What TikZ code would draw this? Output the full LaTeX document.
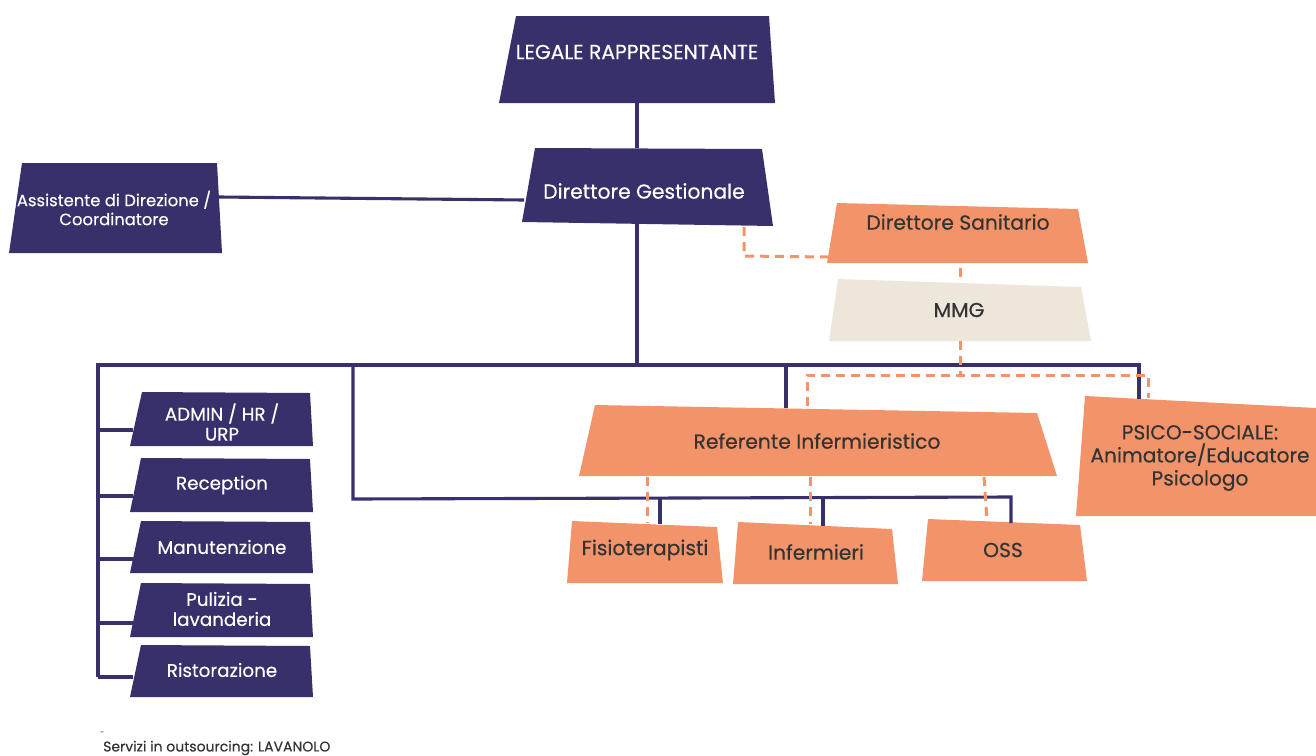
\documentclass[tikz,border=0pt]{standalone}
\usepackage{fontspec}
\setmainfont{Poppins}[FakeBold=0.35]
\definecolor{navy}{HTML}{37306B}
\definecolor{coral}{HTML}{F2936A}
\definecolor{beige}{HTML}{EDE6DB}
\definecolor{ink}{HTML}{333333}
\begin{document}
\begin{tikzpicture}[x=1pt,y=-1pt,
  navyline/.style={draw=navy,line width=3.1pt},
  dashline/.style={draw=coral,line width=3pt,dash pattern=on 9pt off 6pt},
  lbl/.style={align=center,inner sep=0pt,font=\fontsize{20.3}{24}\selectfont},
  wlbl/.style={lbl,text=white},
  dlbl/.style={lbl,text=ink},
  slbl/.style={wlbl,font=\fontsize{16.4}{19}\selectfont},
  clbl/.style={wlbl,font=\fontsize{18.3}{20}\selectfont}]
\useasboundingbox (0,0) rectangle (1316,755);

% ---------- shapes ----------
\fill[navy] (516,16) -- (769,16) -- (775,103) -- (499,103) -- cycle;
\fill[navy] (535,148) -- (762,149) -- (773,226) -- (522,222) -- cycle;
\fill[navy] (22,163) -- (217,163) -- (222,253) -- (9,253) -- cycle;
\fill[coral] (837,203) -- (1078,209) -- (1088,263) -- (827,263) -- cycle;
\fill[beige] (838,279) -- (1081,287) -- (1091,341) -- (829,341) -- cycle;
\fill[coral] (595,405) -- (1037,413) -- (1057,476) -- (579,476) -- cycle;
\fill[coral] (1085,396) -- (1316,408) -- (1316,516) -- (1076,516) -- cycle;
\fill[coral] (572,521) -- (717,527) -- (723,583) -- (567,583) -- cycle;
\fill[coral] (738,522) -- (892,529) -- (898,584) -- (733,584) -- cycle;
\fill[coral] (928,519) -- (1080,525) -- (1087,581) -- (922,581) -- cycle;
\fill[navy] (142,392) -- (310,393) -- (313,446) -- (130,446) -- cycle;
\fill[navy] (141,458) -- (310,459) -- (313,512) -- (130,512) -- cycle;
\fill[navy] (141,521) -- (310,522) -- (313,573) -- (130,573) -- cycle;
\fill[navy] (141,583) -- (310,584) -- (313,637) -- (130,637) -- cycle;
\fill[navy] (141,645) -- (310,646) -- (313,697) -- (130,697) -- cycle;

% ---------- labels ----------
\node[wlbl] (lr) at (637,52) {LEGALE RAPPRESENTANTE};
\node[wlbl] (dg) at (644,191) {Direttore Gestionale};
\node[slbl] (ass) at (114,208) {Assistente di Direzione /\\Coordinatore};
\node[dlbl] (ds) at (958,222) {Direttore Sanitario};
\node[dlbl] (mmg) at (959,310) {MMG};
\node[dlbl,font=\fontsize{20.2}{23}\selectfont] (psi) at (1200,458) {PSICO-SOCIALE:\\Animatore/Educatore\\Psicologo};
\node[dlbl] (ref) at (817,441) {Referente Infermieristico};
\node[dlbl] (fis) at (645,550) {Fisioterapisti};
\node[dlbl] (inf) at (816,552) {Infermieri};
\node[dlbl] (oss) at (1003,550) {OSS};
\node[clbl] (adm) at (222,422) {ADMIN / HR /\\URP};
\node[clbl] (rec) at (222,485) {Reception};
\node[clbl] (man) at (222,547) {Manutenzione};
\node[clbl] (pul) at (222,609) {Pulizia -\\lavanderia};
\node[clbl] (ris) at (222,670) {Ristorazione};
\node[inner sep=0pt,anchor=west,text=ink,font=\fontsize{7}{8}\selectfont] (dot) at (100,733) {-};
\node[inner sep=0pt,anchor=west,text=ink,font=\fontsize{14}{16}\selectfont] (foot) at (103,748) {Servizi in outsourcing: LAVANOLO};

% ---------- connector points ----------
\coordinate (lrS) at (637,103);
\coordinate (dgN) at (637,148);
\coordinate (dgW) at (524,200);
\coordinate (assE) at (219,197);
\coordinate (dgS) at (637,224);
\coordinate (busL) at (98,365);
\coordinate (busM) at (637,365);
\coordinate (busR) at (1139,365);
\coordinate (psiN) at (1139,399);
\coordinate (refN) at (786,408);
\coordinate (bus2) at (353,365);
\coordinate (sub) at (353,499);
\coordinate (fisN) at (660,524);
\coordinate (infN) at (823,526);
\coordinate (ossN) at (1011,523);
\coordinate (colB) at (98,677);
\coordinate (admW) at (133,430);
\coordinate (recW) at (133,496);
\coordinate (manW) at (133,559);
\coordinate (pulW) at (133,623);
\coordinate (risW) at (133,677);

% navy connectors
\draw[navyline] (lrS) -- (dgN);
\draw[navyline] (assE) -- (dgW);
\draw[navyline] (dgS) -- (busM);
\draw[navyline] (colB) -- (busL) -- (busR) -- (psiN);
\draw[navyline] (786,365) -- (refN);
\draw[navyline] (bus2) -- (sub) -- (1011,497) -- (ossN);
\draw[navyline] (660,498) -- (fisN);
\draw[navyline] (823,498) -- (infN);
\draw[navyline] (98,430) -- (admW);
\draw[navyline] (98,496) -- (recW);
\draw[navyline] (98,559) -- (manW);
\draw[navyline] (98,623) -- (pulW);
\draw[navyline] (colB) -- (risW);

% dashed connectors
\coordinate (dgS2) at (744,227);
\coordinate (dsW) at (828,257);
\coordinate (mmgN) at (960,282);
\coordinate (mmgS) at (960,341);
\coordinate (dbar) at (960,375);
\coordinate (refN2) at (807,406);
\coordinate (psiN2) at (1148,398);
\draw[dashline] (dgS2) -- (744,256) -- (dsW);
\draw[dashline] (960,268) -- (mmgN);
\draw[dashline] (mmgS) -- (dbar);
\draw[dashline] (refN2) -- (807,375) -- (1148,375) -- (psiN2);
\draw[dashline] (647,477) -- (647,523);
\draw[dashline] (810,477) -- (810,524);
\draw[dashline] (984,477) -- (987,520);
\end{tikzpicture}
\end{document}
